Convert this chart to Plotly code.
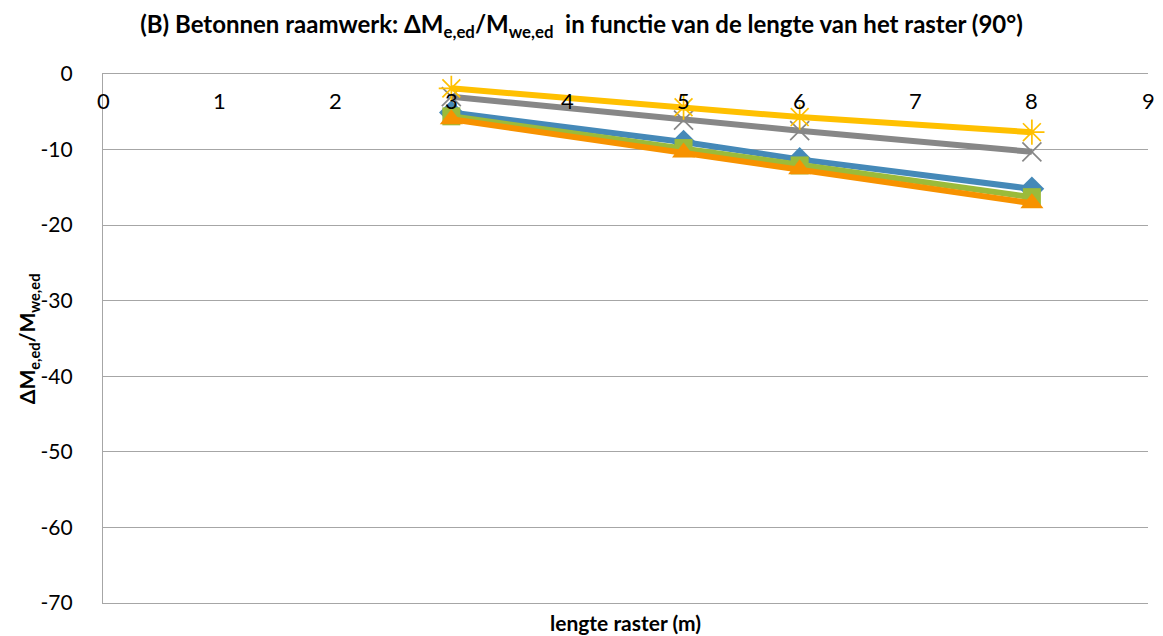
import plotly.graph_objects as go

# Grid length (m)
raster = [3, 5, 6, 8]

# ΔM_e,ed / M_we,ed per series
serie_blauw = [-5.1, -9.0, -11.3, -15.2]
serie_groen = [-5.6, -9.8, -12.1, -16.3]
serie_oranje = [-6.0, -10.4, -12.6, -17.1]
serie_grijs = [-3.0, -6.1, -7.5, -10.3]
serie_geel = [-1.9, -4.4, -5.7, -7.7]

x_ticks = list(range(0, 10))
y_ticks = list(range(0, -80, -10))

FONT = "Lato, 'Open Sans', sans-serif"

fig = go.Figure()

series = [
    (serie_blauw, "#4589B8", "diamond", 19, 0),
    (serie_grijs, "#878787", "x-thin-open", 19, 1.7),
    (serie_geel, "#FFC000", "asterisk-open", 21, 1.7),
    (serie_groen, "#9BBB3A", "square", 18, 0),
    (serie_oranje, "#F79200", "triangle-up", 20, 0),
]
for vals, col, sym, size, lw in series:
    fig.add_trace(go.Scatter(
        x=raster, y=vals, mode="lines+markers",
        line=dict(color=col, width=6),
        marker=dict(symbol=sym, size=size, color=col,
                    line=dict(color=col, width=lw)),
        showlegend=False, cliponaxis=False,
    ))

# category labels sit just below the zero line
annotations = [
    dict(text=str(v), x=v, xref="x", y=0, yref="y", yshift=-11,
         xanchor="center", yanchor="top", showarrow=False,
         font=dict(family=FONT, size=22, color="#000000"))
    for v in x_ticks
]
annotations += [
    dict(text="<b>lengte raster (m)</b>", x=0.5, xref="paper",
         y=-0.037, yref="paper", xanchor="center", yanchor="middle",
         showarrow=False, font=dict(family=FONT, size=21)),
    dict(text="<b>ΔM<sub>e,ed</sub>/M<sub>we,ed</sub></b>", x=-0.072,
         xref="paper", y=0.5, yref="paper", textangle=-90,
         xanchor="center", yanchor="middle", showarrow=False,
         font=dict(family=FONT, size=21)),
]

fig.update_layout(
    width=1163, height=636,
    margin=dict(l=103, r=15, t=74, b=33),
    paper_bgcolor="white", plot_bgcolor="white",
    font=dict(family=FONT, size=21, color="#000000"),
    title=dict(
        text="<b>(B) Betonnen raamwerk: ΔM<sub>e,ed</sub>/M<sub>we,ed</sub>  in functie van de lengte van het raster (90°)</b>",
        x=0.5, xanchor="center", y=0.975, yanchor="top",
        font=dict(family=FONT, size=24, color="#000000"),
    ),
    xaxis=dict(
        range=[0, 9], showticklabels=False, showgrid=False,
        zeroline=False, showline=True, mirror=True,
        linecolor="#A6A6A6", linewidth=1.3, ticks="",
    ),
    yaxis=dict(
        range=[-70, 0], tickvals=y_ticks, ticktext=[str(v) for v in y_ticks],
        showgrid=True, gridcolor="#A6A6A6", gridwidth=1.2, zeroline=False,
        showline=True, linecolor="#A6A6A6", linewidth=1.3, ticks="",
        ticklabelstandoff=25, tickfont=dict(size=21, color="#000000"),
    ),
    annotations=annotations,
)

fig.write_html("out.html")
